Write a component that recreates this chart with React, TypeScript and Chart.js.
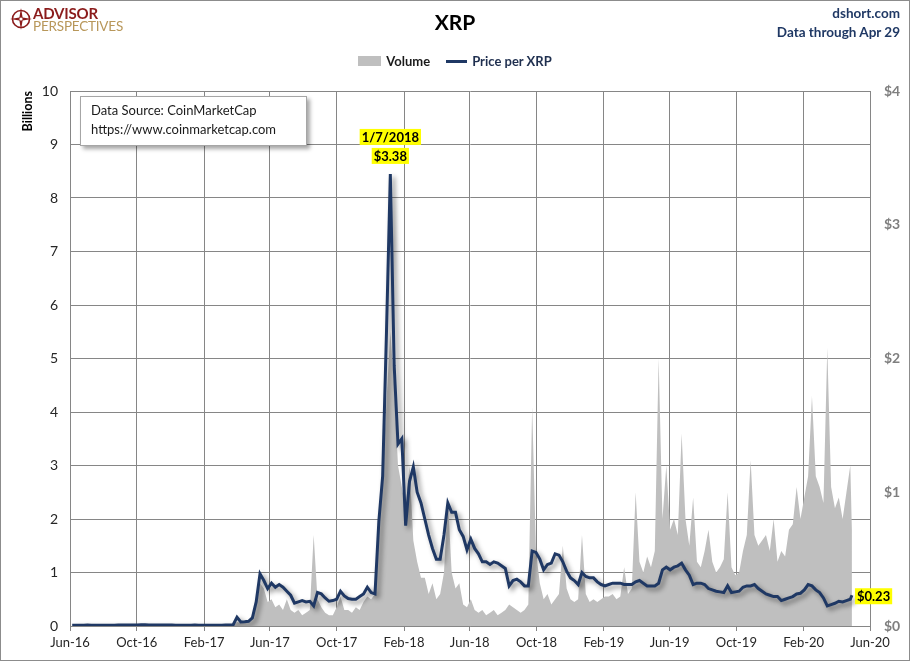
import React, { useEffect, useRef } from 'react';
import { Chart, registerables } from 'chart.js';

Chart.register(...registerables);

// ---------- data ----------
// weekly observations starting on this Sunday; the final value is the last data day
const seriesStart = '2016-06-05';
const lastDate = '2020-04-29';

const xTickLabels = [
  'Jun-16', 'Oct-16', 'Feb-17', 'Jun-17', 'Oct-17', 'Feb-18', 'Jun-18',
  'Oct-18', 'Feb-19', 'Jun-19', 'Oct-19', 'Feb-20', 'Jun-20',
];

const leftTicks = [0, 1, 2, 3, 4, 5, 6, 7, 8, 9, 10];
const rightTicks = [0, 1, 2, 3, 4];

// price per XRP, US$
const priceValues = [
  0.0060, 0.0062, 0.0063, 0.0065, 0.0066, 0.0063, 0.0062, 0.0060, 0.0058, 0.0060,
  0.0062, 0.0065, 0.0070, 0.0074, 0.0080, 0.0072, 0.0068, 0.0080, 0.0095, 0.0085,
  0.0078, 0.0075, 0.0072, 0.0078, 0.0076, 0.0070, 0.0066, 0.0063, 0.0065, 0.0064,
  0.0063, 0.0065, 0.0068, 0.0063, 0.0064, 0.0063, 0.0062, 0.0063, 0.0061, 0.0063,
  0.0066, 0.0070, 0.0090, 0.065, 0.030, 0.031, 0.035, 0.060, 0.18, 0.39,
  0.34, 0.28, 0.32, 0.29, 0.31, 0.29, 0.26, 0.23, 0.17, 0.18,
  0.19, 0.18, 0.185, 0.15, 0.25, 0.24, 0.21, 0.185, 0.19, 0.20,
  0.26, 0.225, 0.205, 0.20, 0.20, 0.22, 0.24, 0.29, 0.25, 0.24,
  0.78, 1.12, 2.2, 3.38, 1.95, 1.36, 1.40, 0.75, 1.08, 1.19,
  1.00, 0.92, 0.80, 0.68, 0.58, 0.50, 0.50, 0.68, 0.92, 0.85,
  0.85, 0.72, 0.67, 0.57, 0.65, 0.58, 0.54, 0.48, 0.48, 0.46,
  0.48, 0.47, 0.45, 0.43, 0.30, 0.34, 0.35, 0.33, 0.30, 0.30,
  0.56, 0.55, 0.50, 0.42, 0.46, 0.47, 0.54, 0.53, 0.48, 0.41,
  0.36, 0.34, 0.31, 0.40, 0.37, 0.36, 0.36, 0.33, 0.31, 0.30,
  0.31, 0.32, 0.32, 0.32, 0.31, 0.31, 0.31, 0.33, 0.34, 0.32,
  0.30, 0.30, 0.30, 0.32, 0.42, 0.44, 0.42, 0.44, 0.45, 0.47,
  0.42, 0.38, 0.31, 0.32, 0.32, 0.31, 0.28, 0.27, 0.26, 0.255,
  0.25, 0.30, 0.25, 0.255, 0.26, 0.29, 0.30, 0.30, 0.31, 0.28,
  0.26, 0.24, 0.23, 0.22, 0.22, 0.19, 0.20, 0.21, 0.22, 0.24,
  0.245, 0.27, 0.31, 0.30, 0.27, 0.25, 0.21, 0.15, 0.16, 0.17,
  0.185, 0.18, 0.19, 0.20,
  0.23,
];

// trading volume, billions
const volumeValues = [
  0.001, 0.001, 0.002, 0.001, 0.001, 0.002, 0.001, 0.001, 0.001, 0.002,
  0.001, 0.002, 0.002, 0.003, 0.004, 0.002, 0.002, 0.003, 0.005, 0.003,
  0.002, 0.002, 0.002, 0.003, 0.002, 0.002, 0.001, 0.001, 0.002, 0.001,
  0.001, 0.001, 0.002, 0.001, 0.001, 0.001, 0.001, 0.001, 0.001, 0.001,
  0.003, 0.004, 0.01, 0.08, 0.05, 0.06, 0.1, 0.2, 0.4, 0.8,
  0.7, 0.45, 0.5, 0.35, 0.4, 0.3, 0.5, 0.3, 0.25, 0.3,
  0.2, 0.25, 0.3, 1.7, 0.5, 0.35, 0.25, 0.2, 0.2, 0.35,
  0.55, 0.3, 0.3, 0.25, 0.35, 0.3, 0.45, 0.55, 0.5, 0.6,
  2.0, 2.8, 4.2, 5.5, 4.5, 3.0, 2.6, 2.2, 3.0, 1.6,
  1.2, 0.9, 0.9, 0.6, 0.8, 0.5, 0.6, 1.0, 2.4, 1.0,
  0.7, 0.8, 0.4, 0.35, 0.5, 0.3, 0.25, 0.3, 0.2, 0.25,
  0.3, 0.2, 0.25, 0.3, 0.4, 0.35, 0.3, 0.25, 0.3, 0.4,
  4.1, 1.4, 0.8, 0.5, 0.6, 0.4, 0.5, 0.6, 1.5, 0.7,
  0.5, 0.45, 0.5, 1.7, 0.6, 0.45, 0.5, 0.45, 0.5, 0.55,
  0.55, 0.6, 0.5, 0.55, 1.1, 0.6, 0.7, 2.5, 1.2, 1.0,
  1.3, 1.1, 1.4, 5.0, 2.0, 3.0, 1.8, 2.0, 1.7, 3.6,
  2.0, 1.5, 2.4, 1.2, 1.1, 1.4, 1.8, 1.2, 1.0, 1.1,
  1.25, 2.5, 1.1, 0.95, 1.0, 1.4, 1.7, 3.1, 1.7, 1.5,
  1.6, 1.7, 1.4, 2.0, 1.2, 1.4, 1.3, 1.8, 1.9, 2.6,
  2.0, 2.4, 2.8, 4.3, 2.8, 2.6, 2.3, 5.2, 2.6, 2.2,
  2.4, 2.0, 2.5, 3.0,
  1.8,
];

// ---------- helpers ----------
const MONTHS = ['Jan', 'Feb', 'Mar', 'Apr', 'May', 'Jun', 'Jul', 'Aug', 'Sep', 'Oct', 'Nov', 'Dec'];
const BASE = Date.UTC(2016, 5, 1);
const DAY = 864e5;
const isoToDay = (iso: string) => (Date.parse(iso + 'T00:00:00Z') - BASE) / DAY;
const labelToDay = (lbl: string) => {
  const [m, y] = lbl.split('-');
  return (Date.UTC(2000 + Number(y), MONTHS.indexOf(m), 1) - BASE) / DAY;
};
const dayToUS = (d: number) => {
  const dt = new Date(BASE + d * DAY);
  return `${dt.getUTCMonth() + 1}/${dt.getUTCDate()}/${dt.getUTCFullYear()}`;
};

const n = priceValues.length;
const xDays = priceValues.map((_, i) =>
  i === n - 1 ? isoToDay(lastDate) : isoToDay(seriesStart) + 7 * i
);
const tickDays = xTickLabels.map(labelToDay);

const FONT = 'Lato, "Open Sans", "DejaVu Sans", sans-serif';
const GRID = '#868686';
const NAVY = '#1F3864';

const shadowPlugin = {
  id: 'lineShadow',
  beforeDatasetDraw(chart: any, args: any) {
    if (args.index !== 0) return;
    const ctx = chart.ctx;
    ctx.save();
    ctx.shadowColor = 'rgba(0,0,0,0.45)';
    ctx.shadowBlur = 5;
    ctx.shadowOffsetX = 3;
    ctx.shadowOffsetY = 3;
  },
  afterDatasetDraw(chart: any, args: any) {
    if (args.index !== 0) return;
    chart.ctx.restore();
  },
};

function highlightText(ctx: CanvasRenderingContext2D, text: string, cx: number, cy: number, align: 'center' | 'left') {
  ctx.font = `bold 13px ${FONT}`;
  const w = ctx.measureText(text).width;
  const left = align === 'center' ? cx - w / 2 : cx;
  ctx.fillStyle = '#FFFF00';
  ctx.fillRect(left - 2, cy - 8, w + 4, 16);
  ctx.fillStyle = '#000000';
  ctx.textBaseline = 'middle';
  ctx.textAlign = 'left';
  ctx.fillText(text, left, cy + 0.5);
}

const annotationPlugin = {
  id: 'annotations',
  afterDatasetsDraw(chart: any) {
    const ctx = chart.ctx as CanvasRenderingContext2D;
    const xs = chart.scales.x;
    const ys = chart.scales.y1;
    let peak = 0;
    priceValues.forEach((v, i) => { if (v > priceValues[peak]) peak = i; });
    const px = xs.getPixelForValue(xDays[peak]);
    const py = ys.getPixelForValue(priceValues[peak]);
    ctx.save();
    highlightText(ctx, dayToUS(xDays[peak]), px, py - 37, 'center');
    highlightText(ctx, '$' + priceValues[peak].toFixed(2), px, py - 18, 'center');
    const lx = xs.getPixelForValue(xDays[n - 1]);
    const ly = ys.getPixelForValue(priceValues[n - 1]);
    highlightText(ctx, '$' + priceValues[n - 1].toFixed(2), lx + 5, ly + 1, 'left');
    ctx.restore();
  },
};

export default function App() {
  const ref = useRef<HTMLCanvasElement | null>(null);

  useEffect(() => {
    document.body.style.margin = '0';
    if (!ref.current) return;
    const chart = new Chart(ref.current, {
      type: 'line',
      data: {
        datasets: [
          {
            label: 'Price per XRP',
            data: xDays.map((x, i) => ({ x, y: priceValues[i] })),
            yAxisID: 'y1',
            borderColor: NAVY,
            borderWidth: 3,
            pointRadius: 0,
            tension: 0,
            fill: false,
            order: 0,
          },
          {
            label: 'Volume',
            data: xDays.map((x, i) => ({ x, y: volumeValues[i] })),
            yAxisID: 'y',
            borderColor: '#BFBFBF',
            borderWidth: 0,
            backgroundColor: '#BFBFBF',
            pointRadius: 0,
            tension: 0,
            fill: 'origin',
            order: 1,
          },
        ],
      },
      options: {
        animation: false,
        responsive: false,
        maintainAspectRatio: false,
        layout: { padding: { top: 91, left: 0, right: 0, bottom: 0 } },
        plugins: { legend: { display: false }, tooltip: { enabled: false } },
        scales: {
          x: {
            type: 'linear',
            min: tickDays[0],
            max: tickDays[tickDays.length - 1],
            afterBuildTicks: (s: any) => { s.ticks = tickDays.map((v) => ({ value: v })); },
            afterFit: (s: any) => { s.height = 35; },
            ticks: {
              autoSkip: false,
              maxRotation: 0,
              padding: 4,
              color: '#262626',
              font: { family: FONT, size: 13 },
              callback: (v: any) => {
                const i = tickDays.findIndex((t) => Math.abs(t - Number(v)) < 0.5);
                return i >= 0 ? xTickLabels[i] : '';
              },
            },
            grid: { color: GRID, lineWidth: 1, tickLength: 5, drawTicks: true },
            border: { color: GRID },
          },
          y: {
            position: 'left',
            min: leftTicks[0],
            max: leftTicks[leftTicks.length - 1],
            afterFit: (s: any) => { s.width = 70; },
            afterBuildTicks: (s: any) => { s.ticks = leftTicks.map((v) => ({ value: v })); },
            ticks: {
              padding: 12,
              color: '#262626',
              font: { family: FONT, size: 14 },
            },
            grid: { color: GRID, lineWidth: 1, drawTicks: false },
            border: { color: GRID },
            title: {
              display: true,
              text: 'Billions',
              align: 'end',
              color: '#000000',
              font: { family: FONT, size: 12.5, weight: 'bold' },
              padding: { top: 20, bottom: 0 },
            },
          },
          y1: {
            position: 'right',
            min: rightTicks[0],
            max: rightTicks[rightTicks.length - 1],
            afterFit: (s: any) => { s.width = 40; },
            afterBuildTicks: (s: any) => { s.ticks = rightTicks.map((v) => ({ value: v })); },
            ticks: {
              padding: 14,
              color: '#7F7F7F',
              font: { family: FONT, size: 14, weight: 'bold' },
              callback: (v: any) => '$' + v,
            },
            grid: { drawOnChartArea: false, drawTicks: false },
            border: { display: false },
          },
        },
      },
      plugins: [shadowPlugin, annotationPlugin],
    } as any);
    return () => chart.destroy();
  }, []);

  return (
    <div style={{ position: 'relative', width: 910, height: 661, background: '#fff', fontFamily: FONT, overflow: 'hidden' }}>
      <canvas ref={ref} width={910} height={661} style={{ position: 'absolute', left: 0, top: 0, width: 910, height: 661 }} />

      {/* logo */}
      <svg width="24" height="24" viewBox="0 0 24 24" style={{ position: 'absolute', left: 9, top: 7 }}>
        <circle cx="12" cy="12" r="8.5" fill="none" stroke="#8B1C1C" strokeWidth="1.6" />
        <polygon points="12,1 13.6,10.4 23,12 13.6,13.6 12,23 10.4,13.6 1,12 10.4,10.4" fill="#8B1C1C" />
        <circle cx="12" cy="12" r="1.6" fill="#fff" />
      </svg>
      <div style={{ position: 'absolute', left: 33, top: 5, fontSize: 15, fontWeight: 700, color: '#8B1C1C', lineHeight: '16px', letterSpacing: -0.2 }}>ADVISOR</div>
      <div style={{ position: 'absolute', left: 33, top: 18, fontSize: 13.5, fontWeight: 400, color: '#B8975A', lineHeight: '16px', letterSpacing: -0.2 }}>PERSPECTIVES</div>

      {/* title */}
      <div style={{ position: 'absolute', left: 0, width: 910, top: 9, textAlign: 'center', fontSize: 21, fontWeight: 700, color: '#000', lineHeight: '26px' }}>XRP</div>

      {/* right header */}
      <div style={{ position: 'absolute', right: 10, top: 4, textAlign: 'right', fontSize: 13.5, fontWeight: 700, color: NAVY, lineHeight: '19px' }}>
        <div>dshort.com</div>
        <div>Data through Apr 29</div>
      </div>

      {/* legend */}
      <div style={{ position: 'absolute', left: 0, width: 910, top: 53, display: 'flex', justifyContent: 'center', alignItems: 'center', fontSize: 13, fontWeight: 700, lineHeight: '16px' }}>
        <span style={{ display: 'inline-block', width: 23, height: 10, background: '#BFBFBF', marginRight: 5 }} />
        <span style={{ color: '#1a1a1a', marginRight: 16 }}>Volume</span>
        <span style={{ display: 'inline-block', width: 21, height: 3, background: NAVY, marginRight: 5 }} />
        <span style={{ color: '#1F2F4F' }}>Price per XRP</span>
      </div>

      {/* data source box */}
      <div style={{ position: 'absolute', left: 80, top: 96, width: 227, height: 50, boxSizing: 'border-box', border: '1px solid #A6A6A6', background: '#fff', boxShadow: '3px 3px 4px rgba(0,0,0,0.35)', padding: '4px 0 0 10px', fontSize: 13, lineHeight: '19px', color: '#1a1a1a' }}>
        <div>Data Source: CoinMarketCap</div>
        <div>https://www.coinmarketcap.com</div>
      </div>

      {/* frame */}
      <div style={{ position: 'absolute', left: 0, top: 0, width: 910, height: 661, boxSizing: 'border-box', border: '1px solid #8C8C8C', pointerEvents: 'none' }} />
    </div>
  );
}
